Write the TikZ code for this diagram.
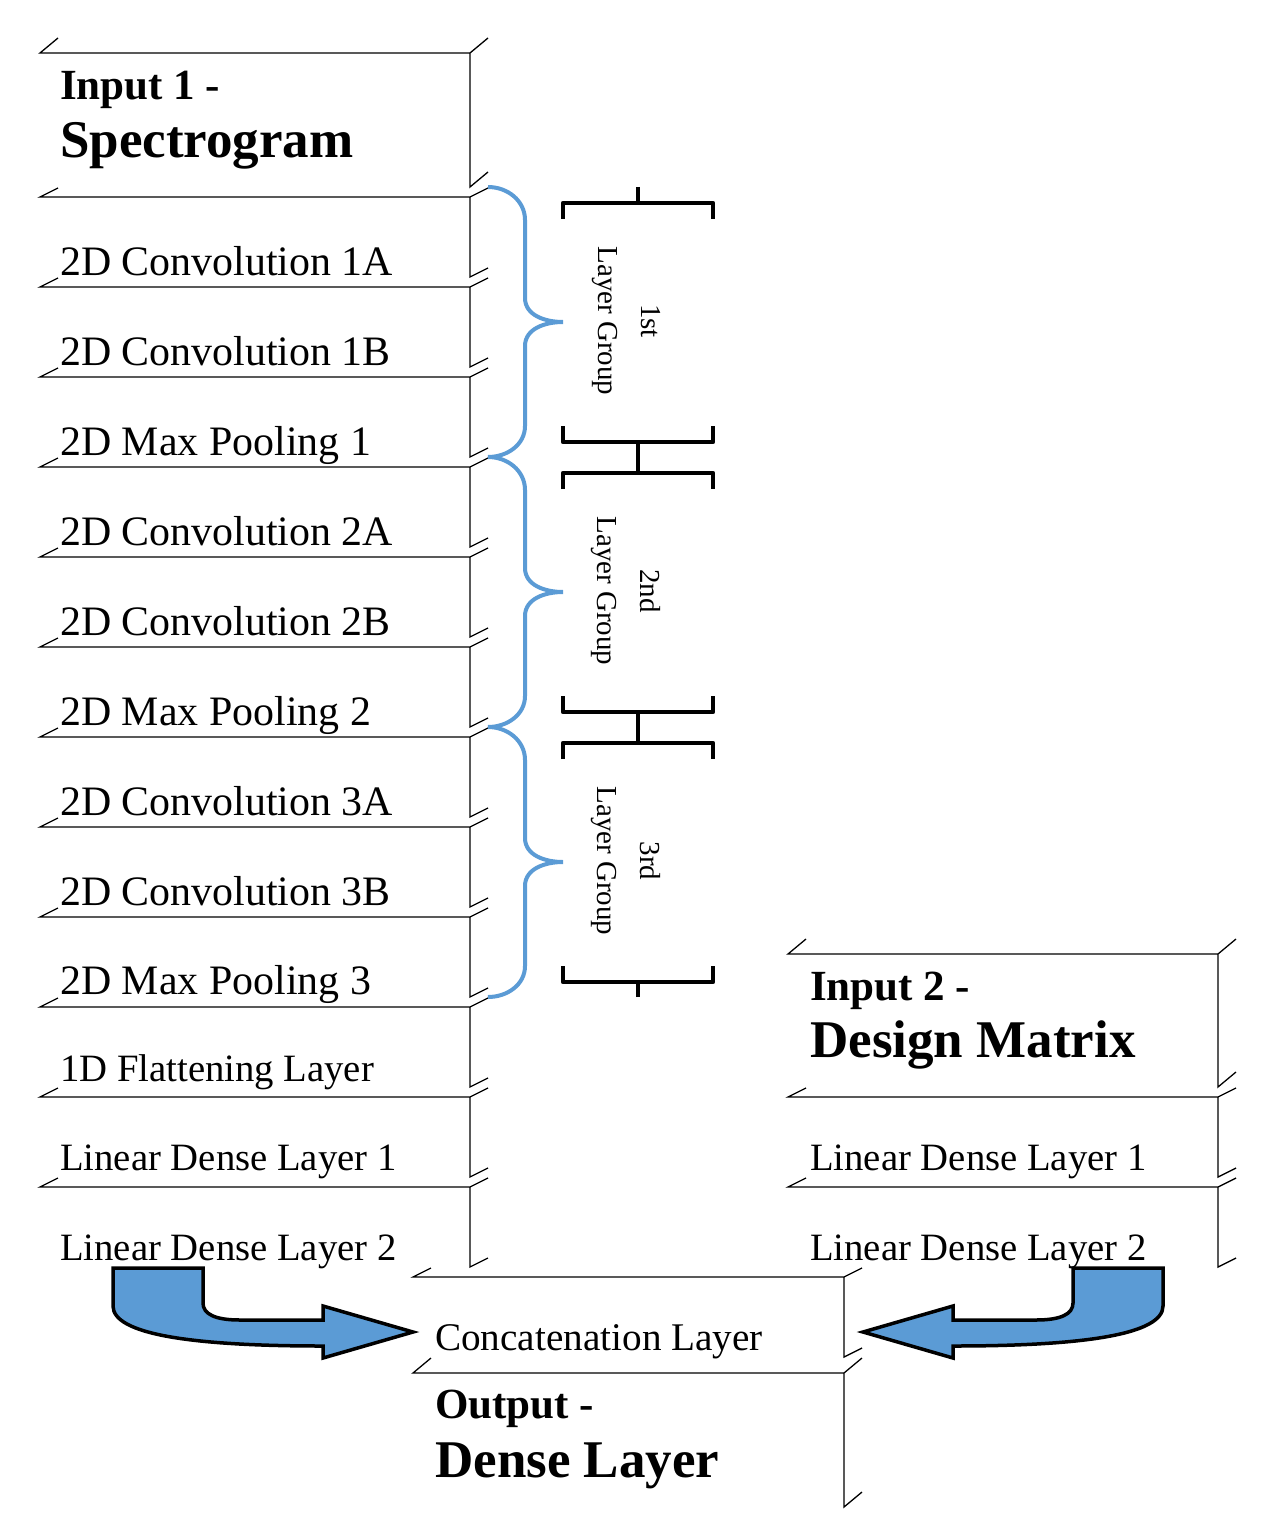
\documentclass[tikz,border=0pt]{standalone}
\usepackage{fontspec}
\setmainfont{Liberation Serif}
\usepackage{tikz}
\usetikzlibrary{positioning}
\definecolor{braceblue}{HTML}{5B9BD5}

% open slab: left x, right x, top y, bottom y, depth
\newcommand{\slab}[5]{%
  \draw[slabline] (#1+18,#3-#5) -- (#1,#3) -- (#2,#3) -- (#2+18,#3-#5)
    (#2,#3) -- (#2,#4) -- (#2+18,#4-#5);}

% layer group: start y
\newcommand{\groupbox}[1]{%
  \draw[groupbar] (638,#1) -- (638,#1+16) (563,#1+32) -- (563,#1+16) -- (713,#1+16) -- (713,#1+32);
  \draw[groupbar] (638,#1+270) -- (638,#1+255) (563,#1+239) -- (563,#1+255) -- (713,#1+255) -- (713,#1+239);
  \draw[groupbrace] (488,#1) to[out=0,in=90] (525,#1+33) -- (525,#1+111)
    to[out=-90,in=180] (563,#1+135) to[out=180,in=90] (525,#1+159) -- (525,#1+239)
    to[out=-90,in=0] (488,#1+270);}

\tikzset{
  slabline/.style={line width=1.3pt},
  layertxt/.style={anchor=base west, inner sep=0pt, font=\fontsize{41.9}{48}\selectfont},
  densetxt/.style={anchor=base west, inner sep=0pt, font=\fontsize{38.7}{44}\selectfont},
  titletxt/.style={anchor=base west, inner sep=0pt, font=\bfseries\fontsize{43}{48}\selectfont},
  bigtxt/.style={anchor=base west, inner sep=0pt, font=\bfseries\fontsize{53}{60}\selectfont},
  grouptxt/.style={rotate=-90, align=center, inner sep=0pt, font=\fontsize{29}{43}\selectfont},
  groupbar/.style={line width=4.5pt, line join=round},
  groupbrace/.style={draw=braceblue, line width=4pt},
  blockarrow/.style={fill=braceblue, draw=black, line width=3.5pt, line join=miter}
}

\begin{document}
\begin{tikzpicture}[x=1pt, y=-1pt]
    \useasboundingbox (0,0) rectangle (1265,1538);

    % Spectrogram branch
    \slab{40}{470}{53}{187}{15}
    \foreach \t in {197,287,...,1187} {\slab{40}{470}{\t}{\t+80}{9}}
    \node[titletxt] (inA) at (60,100) {Input 1 -};
    \node[bigtxt] (inAname) at (60,158) {Spectrogram};
    \node[layertxt] (convAa) at (60,275) {2D Convolution 1A};
    \node[layertxt] (convAb) at (60,365) {2D Convolution 1B};
    \node[layertxt] (poolA) at (60,455) {2D Max Pooling 1};
    \node[layertxt] (convBa) at (60,545) {2D Convolution 2A};
    \node[layertxt] (convBb) at (60,635) {2D Convolution 2B};
    \node[layertxt] (poolB) at (60,725) {2D Max Pooling 2};
    \node[layertxt] (convCa) at (60,815) {2D Convolution 3A};
    \node[layertxt] (convCb) at (60,905) {2D Convolution 3B};
    \node[layertxt] (poolC) at (60,994) {2D Max Pooling 3};
    \node[densetxt] (flat) at (60,1081) {1D Flattening Layer};
    \node[densetxt] (denseAa) at (60,1170) {Linear Dense Layer 1};
    \node[densetxt] (denseAb) at (60,1260) {Linear Dense Layer 2};

    % Layer groups
    \groupbox{187}
    \groupbox{457}
    \groupbox{727}
    \node[grouptxt] (grpA) at (626,321) {1st\\Layer Group};
    \node[grouptxt] (grpB) at (626,591) {2nd\\Layer Group};
    \node[grouptxt] (grpC) at (626,861) {3rd\\Layer Group};

    % Design matrix branch
    \slab{788}{1218}{954}{1087}{15}
    \slab{788}{1218}{1097}{1177}{9}
    \slab{788}{1218}{1187}{1267}{9}
    \node[titletxt] (inB) at (810,1000) {Input 2 -};
    \node[bigtxt] (inBname) at (810,1057) {Design Matrix};
    \node[densetxt] (denseBa) at (810,1170) {Linear Dense Layer 1};
    \node[densetxt] (denseBb) at (810,1260) {Linear Dense Layer 2};

    % Merge and output
    \slab{413}{844}{1277}{1357}{9}
    \slab{413}{844}{1373}{1507}{15}
    \node[densetxt, font=\fontsize{39.2}{44}\selectfont] (concat) at (435,1350) {Concatenation Layer};
    \node[titletxt] (out) at (435,1418) {Output -};
    \node[bigtxt] (outname) at (435,1477) {Dense Layer};

    % Bent arrows into the concatenation layer
    \draw[blockarrow] (113,1268) -- (203,1268) -- (203,1303)
        .. controls (203,1314) and (215,1320) .. (240,1320) -- (323,1320) -- (323,1306)
        -- (413,1332) -- (323,1358) -- (323,1346)
        .. controls (190,1346) and (113,1334) .. (113,1306) -- cycle;
    \begin{scope}[xshift=1276pt, xscale=-1]
    \draw[blockarrow] (113,1268) -- (203,1268) -- (203,1303)
        .. controls (203,1314) and (215,1320) .. (240,1320) -- (323,1320) -- (323,1306)
        -- (413,1332) -- (323,1358) -- (323,1346)
        .. controls (190,1346) and (113,1334) .. (113,1306) -- cycle;
    \end{scope}
\end{tikzpicture}
\end{document}
